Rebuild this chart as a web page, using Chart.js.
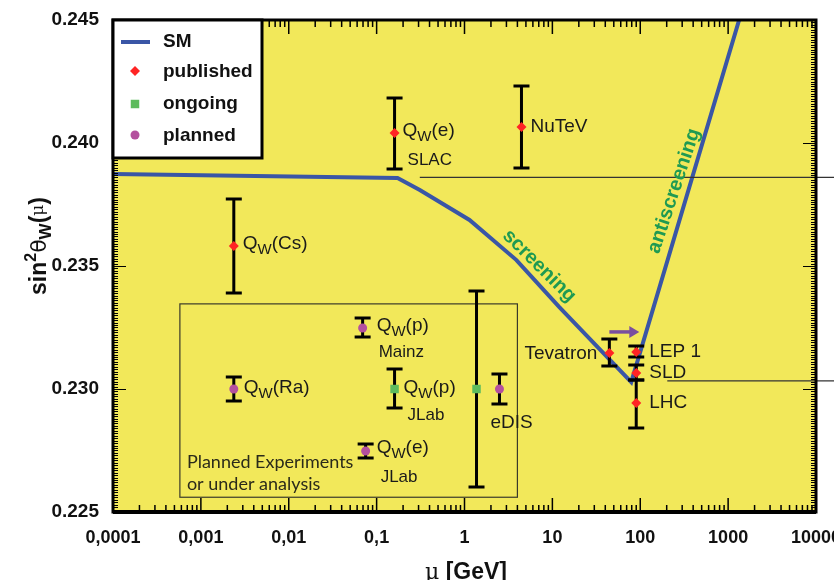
<!DOCTYPE html>
<html>
<head>
<meta charset="utf-8">
<script src="https://cdn.jsdelivr.net/npm/chart.js@4.4.0/dist/chart.umd.min.js"></script>
<style>
  html, body { margin: 0; padding: 0; background: #fff; }
</style>
</head>
<body>
<canvas id="weinbergChart" width="834" height="580"></canvas>
<script>
// Standard Model running of sin^2 theta_W
const smMu  = [0.0001, 0.173, 0.31, 1.14, 3.9, 12, 79, 1334];
const smSin = [0.23874, 0.23858, 0.23809, 0.23687, 0.23524, 0.23333, 0.23028, 0.245];

// published measurements
const pubNames = ["Q_W(Cs)", "Q_W(e)", "NuTeV", "Tevatron", "LEP 1", "SLD", "LHC"];
const pubSites = ["", "SLAC", "", "", "", "", ""];
const pubMu    = [0.00237, 0.16, 4.45, 44.5, 90, 90, 90];
const pubSin   = [0.23581, 0.24041, 0.24065, 0.23146, 0.23150, 0.23065, 0.22943];
const pubLow   = [0.23390, 0.23894, 0.23898, 0.23093, 0.23130, 0.23037, 0.22841];
const pubHigh  = [0.23772, 0.24183, 0.24232, 0.23203, 0.23175, 0.23098, 0.23037];

// ongoing
const ongNames = ["Q_W(p)", ""];
const ongSites = ["JLab", ""];
const ongMu    = [0.16, 1.37];
const ongSin   = [0.2300, 0.2300];
const ongLow   = [0.22923, 0.22602];
const ongHigh  = [0.23081, 0.23398];

// planned
const planNames = ["Q_W(Ra)", "Q_W(p)", "Q_W(e)", "eDIS"];
const planSites = ["", "Mainz", "JLab", ""];
const planMu    = [0.00237, 0.0693, 0.075, 2.5];
const planSin   = [0.2300, 0.23248, 0.22748, 0.2300];
const planLow   = [0.22951, 0.23211, 0.22720, 0.22939];
const planHigh  = [0.23049, 0.23289, 0.22776, 0.23061];

// axes
const xTicks = [0.0001, 0.001, 0.01, 0.1, 1, 10, 100, 1000, 10000];
const yTicks = [0.225, 0.230, 0.235, 0.240, 0.245];

// annotation anchors (data coordinates)
const refLineMu  = [0.31, 203];
const refLineSin = [0.23860, 0.23033];
const boxMu  = [0.000577, 4.0];
const boxSin = [0.2256, 0.23346];
const arrowMu  = [44.5, 97.5];
const arrowSin = 0.23232;
const screenAt = [7.1, 0.23500];
const antiAt   = [243, 0.23805];

// label placement relative to the marker, in px: [dx, dy, siteDx, siteDy]
const pubLabelPos  = [[9, -2, 0, 0], [8, -2, 13, 27], [9, 0, 0, 0], [-12, 1, 0, 0], [13, 0, 0, 0], [13, 0, 0, 0], [13, 0, 0, 0]];
const ongLabelPos  = [[9, -1, 13, 26], [0, 0, 0, 0]];
const planLabelPos = [[10, -1, 0, 0], [14, -2, 16, 24], [11, -3, 15, 26], [-9, 34, 0, 0]];

const SM_BLUE = "#3a56a6";
const RED = "#ff2424";
const GREEN = "#5dbb5d";
const MAGENTA = "#b4509e";
const YELLOW = "#f2e85a";
const TEXT_GREEN = "#1f9a52";
const SANS = "'Liberation Sans', Arial, sans-serif";

function toPoints(mu, s) {
    return mu.map((m, i) => ({ x: m, y: s[i] }));
}

function drawQ(ctx, text, x, y, size, align) {
    // "Q_W(..)" -> Q with subscript W
    let parts;
    if (text.startsWith("Q_W")) {
        parts = [["Q", size, 0], ["W", size - 4, 6], [text.slice(3), size, 0]];
    } else {
        parts = [[text, size, 0]];
    }
    let total = 0;
    parts.forEach(p => {
        ctx.font = p[1] + "px " + SANS;
        total += ctx.measureText(p[0]).width;
    });
    let cx = align === "right" ? x - total : x;
    ctx.textAlign = "left";
    ctx.textBaseline = "middle";
    parts.forEach(p => {
        ctx.font = p[1] + "px " + SANS;
        ctx.fillText(p[0], cx, y + p[2]);
        cx += ctx.measureText(p[0]).width;
    });
}

const backgroundPlugin = {
    id: "background",
    beforeDraw(chart) {
        const { ctx, chartArea: a } = chart;
        ctx.save();
        ctx.fillStyle = "#fff";
        ctx.fillRect(0, 0, chart.width, chart.height);
        ctx.fillStyle = YELLOW;
        ctx.fillRect(a.left, a.top, a.right - a.left, a.bottom - a.top);

        const x = chart.scales.x, y = chart.scales.y;
        // planned box
        ctx.strokeStyle = "#3a3a2a";
        ctx.lineWidth = 1.2;
        const bx0 = x.getPixelForValue(boxMu[0]), bx1 = x.getPixelForValue(boxMu[1]);
        const by0 = y.getPixelForValue(boxSin[1]), by1 = y.getPixelForValue(boxSin[0]);
        ctx.strokeRect(bx0, by0, bx1 - bx0, by1 - by0);
        ctx.fillStyle = "#2a2a1a";
        ctx.font = "18px Lato, 'Open Sans', sans-serif";
        ctx.textAlign = "left";
        ctx.textBaseline = "alphabetic";
        ctx.fillText("Planned Experiments", bx0 + 7, by1 - 29);
        ctx.fillText("or under analysis", bx0 + 7, by1 - 7);
        ctx.restore();
    }
};

function drawBars(ctx, x, y, mu, lo, hi) {
    mu.forEach((m, i) => {
        const px = x.getPixelForValue(m);
        const t = y.getPixelForValue(hi[i]);
        const b = y.getPixelForValue(lo[i]);
        ctx.beginPath();
        ctx.moveTo(px, t);
        ctx.lineTo(px, b);
        ctx.moveTo(px - 8, t);
        ctx.lineTo(px + 8, t);
        ctx.moveTo(px - 8, b);
        ctx.lineTo(px + 8, b);
        ctx.stroke();
    });
}

const errorBarPlugin = {
    id: "errorBars",
    afterDatasetDraw(chart, args) {
        if (args.index !== 0) return;
        const { ctx } = chart;
        const x = chart.scales.x, y = chart.scales.y;
        ctx.save();
        ctx.strokeStyle = "#000";
        ctx.lineWidth = 3;
        drawBars(ctx, x, y, pubMu, pubLow, pubHigh);
        drawBars(ctx, x, y, ongMu, ongLow, ongHigh);
        drawBars(ctx, x, y, planMu, planLow, planHigh);
        ctx.restore();
    }
};

function drawLabels(ctx, x, y, names, sites, mu, sin, pos) {
    names.forEach((n, i) => {
        const px = x.getPixelForValue(mu[i]);
        const py = y.getPixelForValue(sin[i]);
        const p = pos[i];
        if (n) drawQ(ctx, n, px + p[0], py + p[1], 19, p[0] < 0 && n !== "eDIS" ? "right" : "left");
        if (sites[i]) {
            ctx.font = "17px " + SANS;
            ctx.textAlign = "left";
            ctx.textBaseline = "middle";
            ctx.fillText(sites[i], px + p[2], py + p[3]);
        }
    });
}

const annotationPlugin = {
    id: "annotations",
    afterDatasetsDraw(chart) {
        const { ctx } = chart;
        const x = chart.scales.x, y = chart.scales.y;
        ctx.save();

        // reference lines running out to the page edge
        ctx.strokeStyle = "#333";
        ctx.lineWidth = 1.3;
        refLineMu.forEach((m, i) => {
            const py = y.getPixelForValue(refLineSin[i]);
            ctx.beginPath();
            ctx.moveTo(x.getPixelForValue(m), py);
            ctx.lineTo(chart.width, py);
            ctx.stroke();
        });

        // arrow
        const ax0 = x.getPixelForValue(arrowMu[0]), ax1 = x.getPixelForValue(arrowMu[1]);
        const ay = y.getPixelForValue(arrowSin);
        ctx.strokeStyle = "#7a4f9f";
        ctx.fillStyle = "#7a4f9f";
        ctx.lineWidth = 3.5;
        ctx.beginPath();
        ctx.moveTo(ax0, ay);
        ctx.lineTo(ax1 - 6, ay);
        ctx.stroke();
        ctx.beginPath();
        ctx.moveTo(ax1, ay);
        ctx.lineTo(ax1 - 10, ay - 6);
        ctx.lineTo(ax1 - 10, ay + 6);
        ctx.closePath();
        ctx.fill();

        // point labels
        ctx.fillStyle = "#1a1a1a";
        drawLabels(ctx, x, y, pubNames, pubSites, pubMu, pubSin, pubLabelPos);
        drawLabels(ctx, x, y, ongNames, ongSites, ongMu, ongSin, ongLabelPos);
        drawLabels(ctx, x, y, planNames, planSites, planMu, planSin, planLabelPos);

        // screening / antiscreening
        ctx.fillStyle = TEXT_GREEN;
        ctx.font = "bold 20px " + SANS;
        ctx.textAlign = "center";
        ctx.textBaseline = "middle";
        ctx.save();
        ctx.translate(x.getPixelForValue(screenAt[0]), y.getPixelForValue(screenAt[1]));
        ctx.rotate(44.6 * Math.PI / 180);
        ctx.fillText("screening", 0, 0);
        ctx.restore();
        ctx.save();
        ctx.translate(x.getPixelForValue(antiAt[0]), y.getPixelForValue(antiAt[1]));
        ctx.rotate(-71.6 * Math.PI / 180);
        ctx.fillText("antiscreening", 0, 0);
        ctx.restore();

        ctx.restore();
    }
};

const framePlugin = {
    id: "frame",
    afterDraw(chart) {
        const { ctx, chartArea: a } = chart;
        const x = chart.scales.x, y = chart.scales.y;
        ctx.save();
        ctx.strokeStyle = "#000";
        ctx.lineWidth = 1;

        // y ticks, left and right
        for (let i = 0; i <= 200; i++) {
            const py = Math.round(y.getPixelForValue(0.225 + i * 0.0001)) + 0.5;
            const len = i % 50 === 0 ? 13 : 5;
            ctx.beginPath();
            ctx.moveTo(a.left, py);
            ctx.lineTo(a.left + len, py);
            ctx.moveTo(a.right, py);
            ctx.lineTo(a.right - len, py);
            ctx.stroke();
        }
        // x ticks, top and bottom
        ctx.lineWidth = 1.5;
        for (let d = -4; d < 4; d++) {
            for (let k = 1; k <= 9; k++) {
                const px = x.getPixelForValue(k * Math.pow(10, d));
                const len = k === 1 ? 14 : 7;
                ctx.beginPath();
                ctx.moveTo(px, a.bottom);
                ctx.lineTo(px, a.bottom - len);
                ctx.moveTo(px, a.top);
                ctx.lineTo(px, a.top + len);
                ctx.stroke();
            }
        }

        // frame
        ctx.lineWidth = 3;
        ctx.strokeRect(a.left, a.top, a.right - a.left, a.bottom - a.top);
        ctx.lineWidth = 4;
        ctx.beginPath();
        ctx.moveTo(a.left, a.bottom);
        ctx.lineTo(a.right, a.bottom);
        ctx.stroke();

        // legend
        const lx = a.left, ly = a.top, lw = 149, lh = 138;
        ctx.fillStyle = "#fff";
        ctx.fillRect(lx, ly, lw, lh);
        ctx.lineWidth = 3;
        ctx.strokeRect(lx, ly, lw, lh);
        ctx.strokeStyle = SM_BLUE;
        ctx.lineWidth = 4;
        ctx.beginPath();
        ctx.moveTo(lx + 8, ly + 22);
        ctx.lineTo(lx + 37, ly + 22);
        ctx.stroke();
        const mark = (style, r, yy) => {
            Chart.helpers.drawPoint(ctx, { pointStyle: style, radius: r, borderWidth: 0 }, lx + 22, ly + yy);
        };
        ctx.fillStyle = RED;
        mark("rectRot", 5, 51);
        ctx.fillStyle = GREEN;
        mark("rect", 6, 84);
        ctx.fillStyle = MAGENTA;
        mark("circle", 4.5, 115);
        ctx.fillStyle = "#111";
        ctx.font = "bold 19px " + SANS;
        ctx.textAlign = "left";
        ctx.textBaseline = "middle";
        ctx.fillText("SM", lx + 50, ly + 22);
        ctx.fillText("published", lx + 50, ly + 52);
        ctx.fillText("ongoing", lx + 50, ly + 84);
        ctx.fillText("planned", lx + 50, ly + 116);

        // axis titles
        ctx.fillStyle = "#111";
        ctx.save();
        ctx.translate(46, 246);
        ctx.rotate(-Math.PI / 2);
        const yParts = [["sin", "bold 23px " + SANS, 0], ["2", "bold 16px " + SANS, -10],
                        ["\u03b8", "22px 'DejaVu Sans', sans-serif", 0], ["W", "bold 17px " + SANS, 5],
                        ["(", "bold 23px " + SANS, 0], ["\u03bc", "17px 'DejaVu Serif', serif", -3],
                        [")", "bold 23px " + SANS, 0]];
        let tw = 0;
        yParts.forEach(p => { ctx.font = p[1]; tw += ctx.measureText(p[0]).width; });
        let cx = -tw / 2;
        ctx.textAlign = "left";
        ctx.textBaseline = "alphabetic";
        yParts.forEach(p => { ctx.font = p[1]; ctx.fillText(p[0], cx, p[2]); cx += ctx.measureText(p[0]).width; });
        ctx.restore();

        const xParts = [["\u03bc", "22px 'DejaVu Serif', serif"], [" [GeV]", "bold 23px " + SANS]];
        tw = 0;
        xParts.forEach(p => { ctx.font = p[1]; tw += ctx.measureText(p[0]).width; });
        cx = 466 - tw / 2;
        xParts.forEach(p => { ctx.font = p[1]; ctx.fillText(p[0], cx, 573); cx += ctx.measureText(p[0]).width; });

        ctx.restore();
    }
};

new Chart(document.getElementById("weinbergChart"), {
    type: "scatter",
    data: {
        datasets: [
            {
                type: "line",
                label: "SM",
                data: toPoints(smMu, smSin),
                borderColor: SM_BLUE,
                borderWidth: 4,
                pointRadius: 0,
                tension: 0,
                fill: false,
                order: 10
            },
            {
                label: "published",
                data: toPoints(pubMu, pubSin),
                pointStyle: "rectRot",
                pointRadius: 5,
                backgroundColor: RED,
                borderWidth: 0,
                order: 1
            },
            {
                label: "ongoing",
                data: toPoints(ongMu, ongSin),
                pointStyle: "rect",
                pointRadius: 6,
                backgroundColor: GREEN,
                borderWidth: 0,
                order: 1
            },
            {
                label: "planned",
                data: toPoints(planMu, planSin),
                pointStyle: "circle",
                pointRadius: 4.5,
                backgroundColor: MAGENTA,
                borderWidth: 0,
                order: 1
            }
        ]
    },
    options: {
        responsive: false,
        animation: false,
        events: [],
        layout: { padding: { top: 20, right: 18, left: 0, bottom: 0 } },
        plugins: {
            legend: { display: false },
            tooltip: { enabled: false }
        },
        scales: {
            x: {
                type: "logarithmic",
                min: 0.0001,
                max: 10000,
                grid: { display: false },
                border: { display: false },
                afterBuildTicks: s => { s.ticks = xTicks.map(v => ({ value: v })); },
                afterFit: s => { s.height = 68; s.paddingLeft = 0; s.paddingRight = 0; },
                ticks: {
                    autoSkip: false,
                    maxRotation: 0,
                    padding: 7,
                    color: "#111",
                    font: { family: SANS, weight: "bold", size: 18 },
                    callback: v => String(v).replace(".", ",")
                }
            },
            y: {
                min: 0.225,
                max: 0.245,
                grid: { display: false },
                border: { display: false },
                afterBuildTicks: s => { s.ticks = yTicks.map(v => ({ value: v })); },
                afterFit: s => { s.width = 113; s.paddingTop = 0; s.paddingBottom = 0; },
                ticks: {
                    padding: 6,
                    color: "#111",
                    font: { family: SANS, weight: "bold", size: 19 },
                    callback: v => v.toFixed(3)
                }
            }
        }
    },
    plugins: [backgroundPlugin, errorBarPlugin, annotationPlugin, framePlugin]
});
</script>
</body>
</html>
